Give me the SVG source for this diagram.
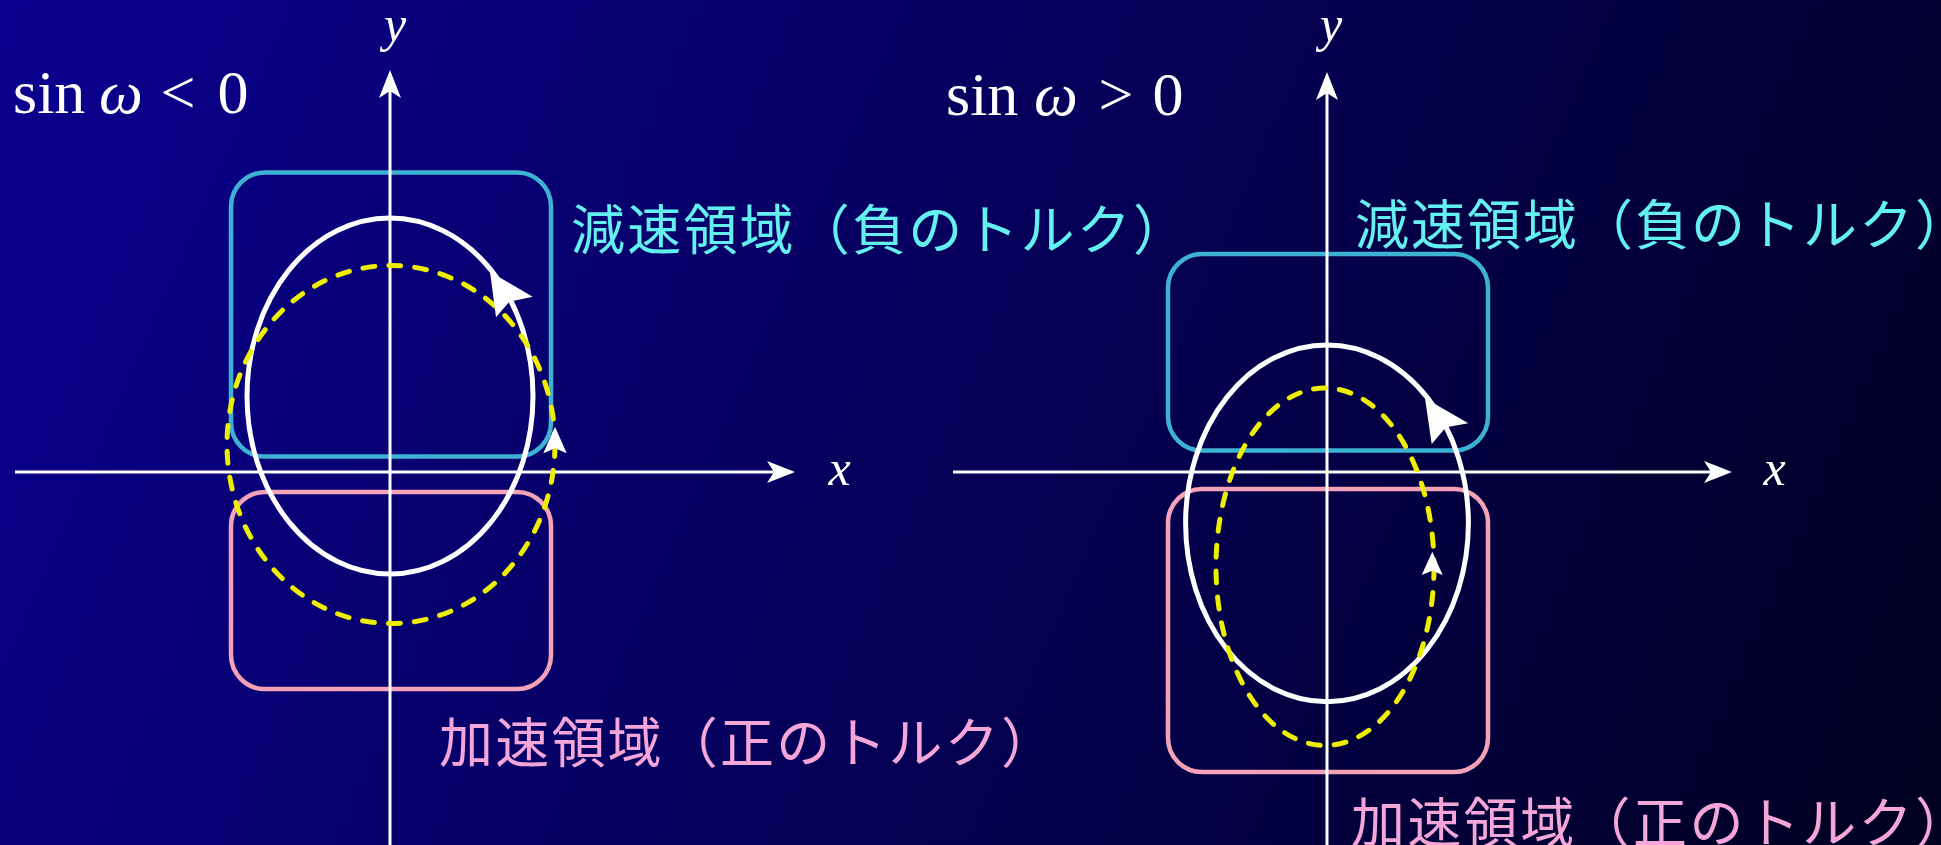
<svg xmlns="http://www.w3.org/2000/svg" width="1941" height="845" viewBox="0 0 1941 845">
<defs>
<linearGradient id="bg" gradientUnits="userSpaceOnUse" x1="0" y1="0" x2="1941" y2="845">
<stop offset="0" stop-color="#0b0090"/>
<stop offset="1" stop-color="#000020"/>
</linearGradient>
<path id="stealth" d="M0,0 L-28,-11 L-21,0 L-28,11 Z" fill="#ffffff"/>
<style>
.axis{stroke:#ffffff;stroke-width:3;fill:none}
.decel{stroke:#3db2d2;stroke-width:4.5;fill:none}
.accel{stroke:#f4a2b8;stroke-width:4.5;fill:none}
.orbit{stroke:#ffffff;stroke-width:5;fill:none}
.dash{stroke:#eeee00;stroke-width:5;fill:none;stroke-dasharray:12 14;stroke-linecap:round}
.head{fill:#ffffff}
.math{font-family:"Liberation Serif",serif;fill:#ffffff;font-size:62px}
.var{font-family:"Liberation Serif",serif;font-style:italic;fill:#ffffff;font-size:50px}
.cy{font-family:"Noto Sans CJK JP",sans-serif;fill:#62f0f0;font-size:54px}
.pk{font-family:"Noto Sans CJK JP",sans-serif;fill:#f4a6d8;font-size:54px}
</style>
</defs>
<rect x="0" y="0" width="1941" height="845" fill="url(#bg)"/>

<g id="left-regions">
<rect id="left-decel" class="decel" x="231" y="172.5" width="320" height="284" rx="34"/>
<rect id="left-accel" class="accel" x="231" y="492" width="320" height="197" rx="34"/>
</g>
<g id="right-regions">
<rect id="right-decel" class="decel" x="1168" y="254" width="320" height="196.5" rx="34"/>
<rect id="right-accel" class="accel" x="1168" y="489" width="320" height="283" rx="34"/>
</g>

<g id="connectors">
<line class="axis" x1="15" y1="472" x2="780" y2="472"/>
<use href="#stealth" transform="translate(795,472)"/>
<line class="axis" x1="390" y1="845" x2="390" y2="85"/>
<use href="#stealth" transform="translate(390,70) rotate(-90)"/>
<line class="axis" x1="953" y1="472" x2="1717" y2="472"/>
<use href="#stealth" transform="translate(1732,472)"/>
<line class="axis" x1="1327" y1="845" x2="1327" y2="87"/>
<use href="#stealth" transform="translate(1327,72) rotate(-90)"/>
</g>

<g id="left-orbits">
<ellipse class="orbit" cx="390" cy="396" rx="143" ry="178"/>
<ellipse class="dash" cx="391" cy="444.5" rx="164" ry="179"/>
<path class="head" d="M490,271.7 L532.7,296.7 L509.3,301.7 L496,317.3 Z"/>
<path class="head" d="M555,426.7 L566.7,453.3 L555,448.3 L543.3,453.3 Z"/>
</g>
<g id="right-orbits">
<ellipse class="orbit" cx="1327" cy="523.3" rx="141.4" ry="178.4"/>
<ellipse class="dash" cx="1325" cy="566.7" rx="109" ry="178.7"/>
<path class="head" d="M1425,398.3 L1468.3,423.3 L1446,427.3 L1431.7,444 Z"/>
<path class="head" d="M1432.3,551.7 L1442.7,575 L1432.3,570.7 L1421.7,575 Z"/>
</g>

<g id="left-labels">
<text class="math" x="13" y="113">sin</text>
<text class="math" x="121" y="113" text-anchor="middle" font-style="italic">ω</text>
<text class="math" x="178" y="113" text-anchor="middle" font-size="68">&lt;</text>
<text class="math" x="233" y="113" text-anchor="middle">0</text>
<text class="var" x="395" y="41" text-anchor="middle" font-size="46">y</text>
<text class="var" x="839.5" y="485" text-anchor="middle">x</text>
<text class="cy" x="571" y="250" textLength="616" lengthAdjust="spacing">減速領域（負のトルク）</text>
<text class="pk" x="439" y="763" textLength="616" lengthAdjust="spacing">加速領域（正のトルク）</text>
</g>
<g id="right-labels">
<text class="math" x="946" y="115">sin</text>
<text class="math" x="1056" y="115" text-anchor="middle" font-style="italic">ω</text>
<text class="math" x="1116" y="115" text-anchor="middle" font-size="68">&gt;</text>
<text class="math" x="1168" y="115" text-anchor="middle">0</text>
<text class="var" x="1331" y="41" text-anchor="middle" font-size="46">y</text>
<text class="var" x="1774.5" y="485" text-anchor="middle">x</text>
<text class="cy" x="1355" y="245" textLength="614" lengthAdjust="spacing">減速領域（負のトルク）</text>
<text class="pk" x="1351" y="843" textLength="618" lengthAdjust="spacing">加速領域（正のトルク）</text>
</g>
</svg>
